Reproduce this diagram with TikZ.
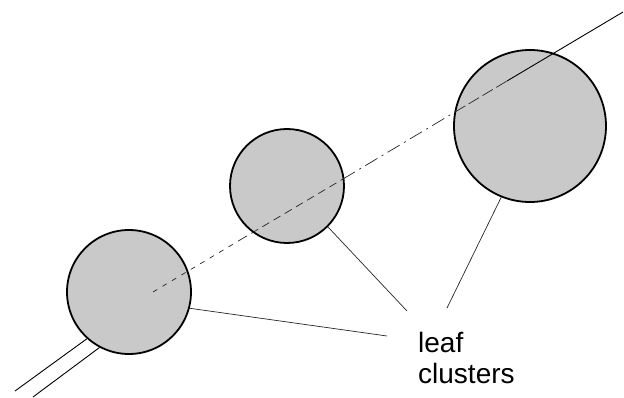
\documentclass[tikz,border=0pt]{standalone}
\usepackage{fontspec}
\setmainfont{Liberation Sans}
\begin{document}
\begin{tikzpicture}[x=1pt,y=-1pt,
  cluster/.style={circle,draw=black,line width=1.8pt,fill=gray!42,inner sep=0pt},
  thin/.style={line width=0.9pt,black},
  leader/.style={line width=0.7pt,black!85},
  lbl/.style={font=\fontsize{28}{31}\selectfont,align=left,inner sep=0pt,anchor=north west}]
\useasboundingbox (0,0) rectangle (624,398);
% double line at lower left
\coordinate (da1) at (15,391);
\coordinate (db1) at (33,397);
% clusters
\node[cluster,minimum size=124pt] (c1) at (129,292) {};
\node[cluster,minimum size=114pt] (c2) at (287,186) {};
\node[cluster,minimum size=152pt] (c3) at (530,126) {};
\draw[thin] (da1) -- (c1.228);
\draw[thin] (db1) -- (c1.242);
% main axis line
\coordinate (a) at (153,292);
\coordinate (b) at (240,240);
\coordinate (c) at (343,179);
\coordinate (d) at (455,112);
\coordinate (e) at (507,81);
\coordinate (f) at (623,12);
\draw[leader,dash pattern=on 5pt off 6pt] (a) -- (b);
\draw[leader,dash pattern=on 8pt off 5pt] (b) -- (c);
\draw[leader,dash pattern=on 14pt off 5pt on 2pt off 5pt] (c) -- (d);
\draw[leader,dash pattern=on 12pt off 4pt] (d) -- (e);
\draw[thin] (e) -- (f);
% label and leaders
\node[lbl] (lab) at (418,332) {leaf\\clusters};
\coordinate (t1) at (387,336);
\coordinate (t2) at (407,311);
\coordinate (t3) at (447,308);
\draw[leader] (c1.-15) -- (t1);
\draw[leader] (c2.-45) -- (t2);
\draw[leader] (c3.-112) -- (t3);
\end{tikzpicture}
\end{document}
